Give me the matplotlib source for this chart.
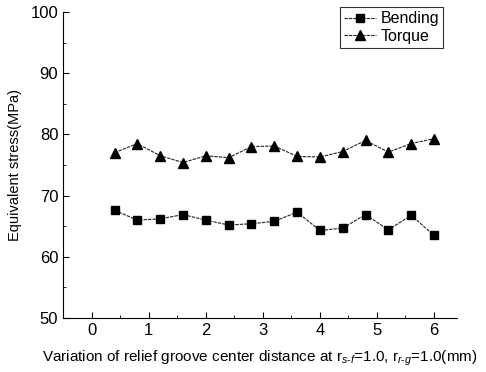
import numpy as np
import matplotlib
matplotlib.use("Agg")
import matplotlib.pyplot as plt
from matplotlib.ticker import MultipleLocator

plt.rcParams['font.family'] = ['Liberation Sans', 'DejaVu Sans']
plt.rcParams['mathtext.fontset'] = 'custom'
plt.rcParams['mathtext.rm'] = 'Liberation Sans'
plt.rcParams['mathtext.it'] = 'Liberation Sans:italic'

# data
distance = [0.4, 0.8, 1.2, 1.6, 2.0, 2.4, 2.8, 3.2, 3.6, 4.0, 4.4, 4.8, 5.2, 5.6, 6.0]
bending = [67.6, 66.0, 66.2, 66.9, 66.0, 65.2, 65.4, 65.8, 67.3, 64.3, 64.7, 66.9, 64.4, 66.8, 63.5]
torque = [77.0, 78.5, 76.5, 75.4, 76.5, 76.2, 78.0, 78.1, 76.4, 76.3, 77.2, 79.0, 77.1, 78.5, 79.3]

fig = plt.figure(figsize=(4.86, 3.72), dpi=100)
ax = fig.add_axes([0.13, 0.145, 0.81, 0.823])

ax.plot(distance, bending, color='#222222', lw=0.8, ls=(0, (3, 1)), marker='s', ms=5.5,
        mfc='black', mec='black', label='Bending')
ax.plot(distance, torque, color='#222222', lw=0.8, ls=(0, (3, 1)), marker='^', ms=6.5,
        mfc='black', mec='black', label='Torque')

ax.set_xlim(-0.5, 6.4)
ax.set_ylim(50, 100)
ax.xaxis.set_major_locator(MultipleLocator(1))
ax.xaxis.set_minor_locator(MultipleLocator(0.5))
ax.yaxis.set_major_locator(MultipleLocator(10))
ax.yaxis.set_minor_locator(MultipleLocator(5))
ax.tick_params(which='both', direction='in', labelsize=12)
ax.tick_params(which='major', length=4)
ax.tick_params(which='minor', length=2)
for s in ['top', 'right']:
    ax.spines[s].set_visible(False)

ax.set_ylabel('Equivalent stress(MPa)', fontsize=10.5, labelpad=6)
ax.set_xlabel(r'Variation of relief groove center distance at r$_{s\text{-}f}$=1.0, r$_{r\text{-}g}$=1.0(mm)',
              fontsize=11, labelpad=8)

leg = ax.legend(loc='upper right', bbox_to_anchor=(0.965, 1.015), fontsize=11.5, frameon=True, fancybox=False,
                edgecolor='black', handlelength=2.0, borderpad=0.25, labelspacing=0.15, handletextpad=0.3,
                borderaxespad=0.0)
leg.get_frame().set_linewidth(0.8)

plt.savefig('out.png', dpi=100)
